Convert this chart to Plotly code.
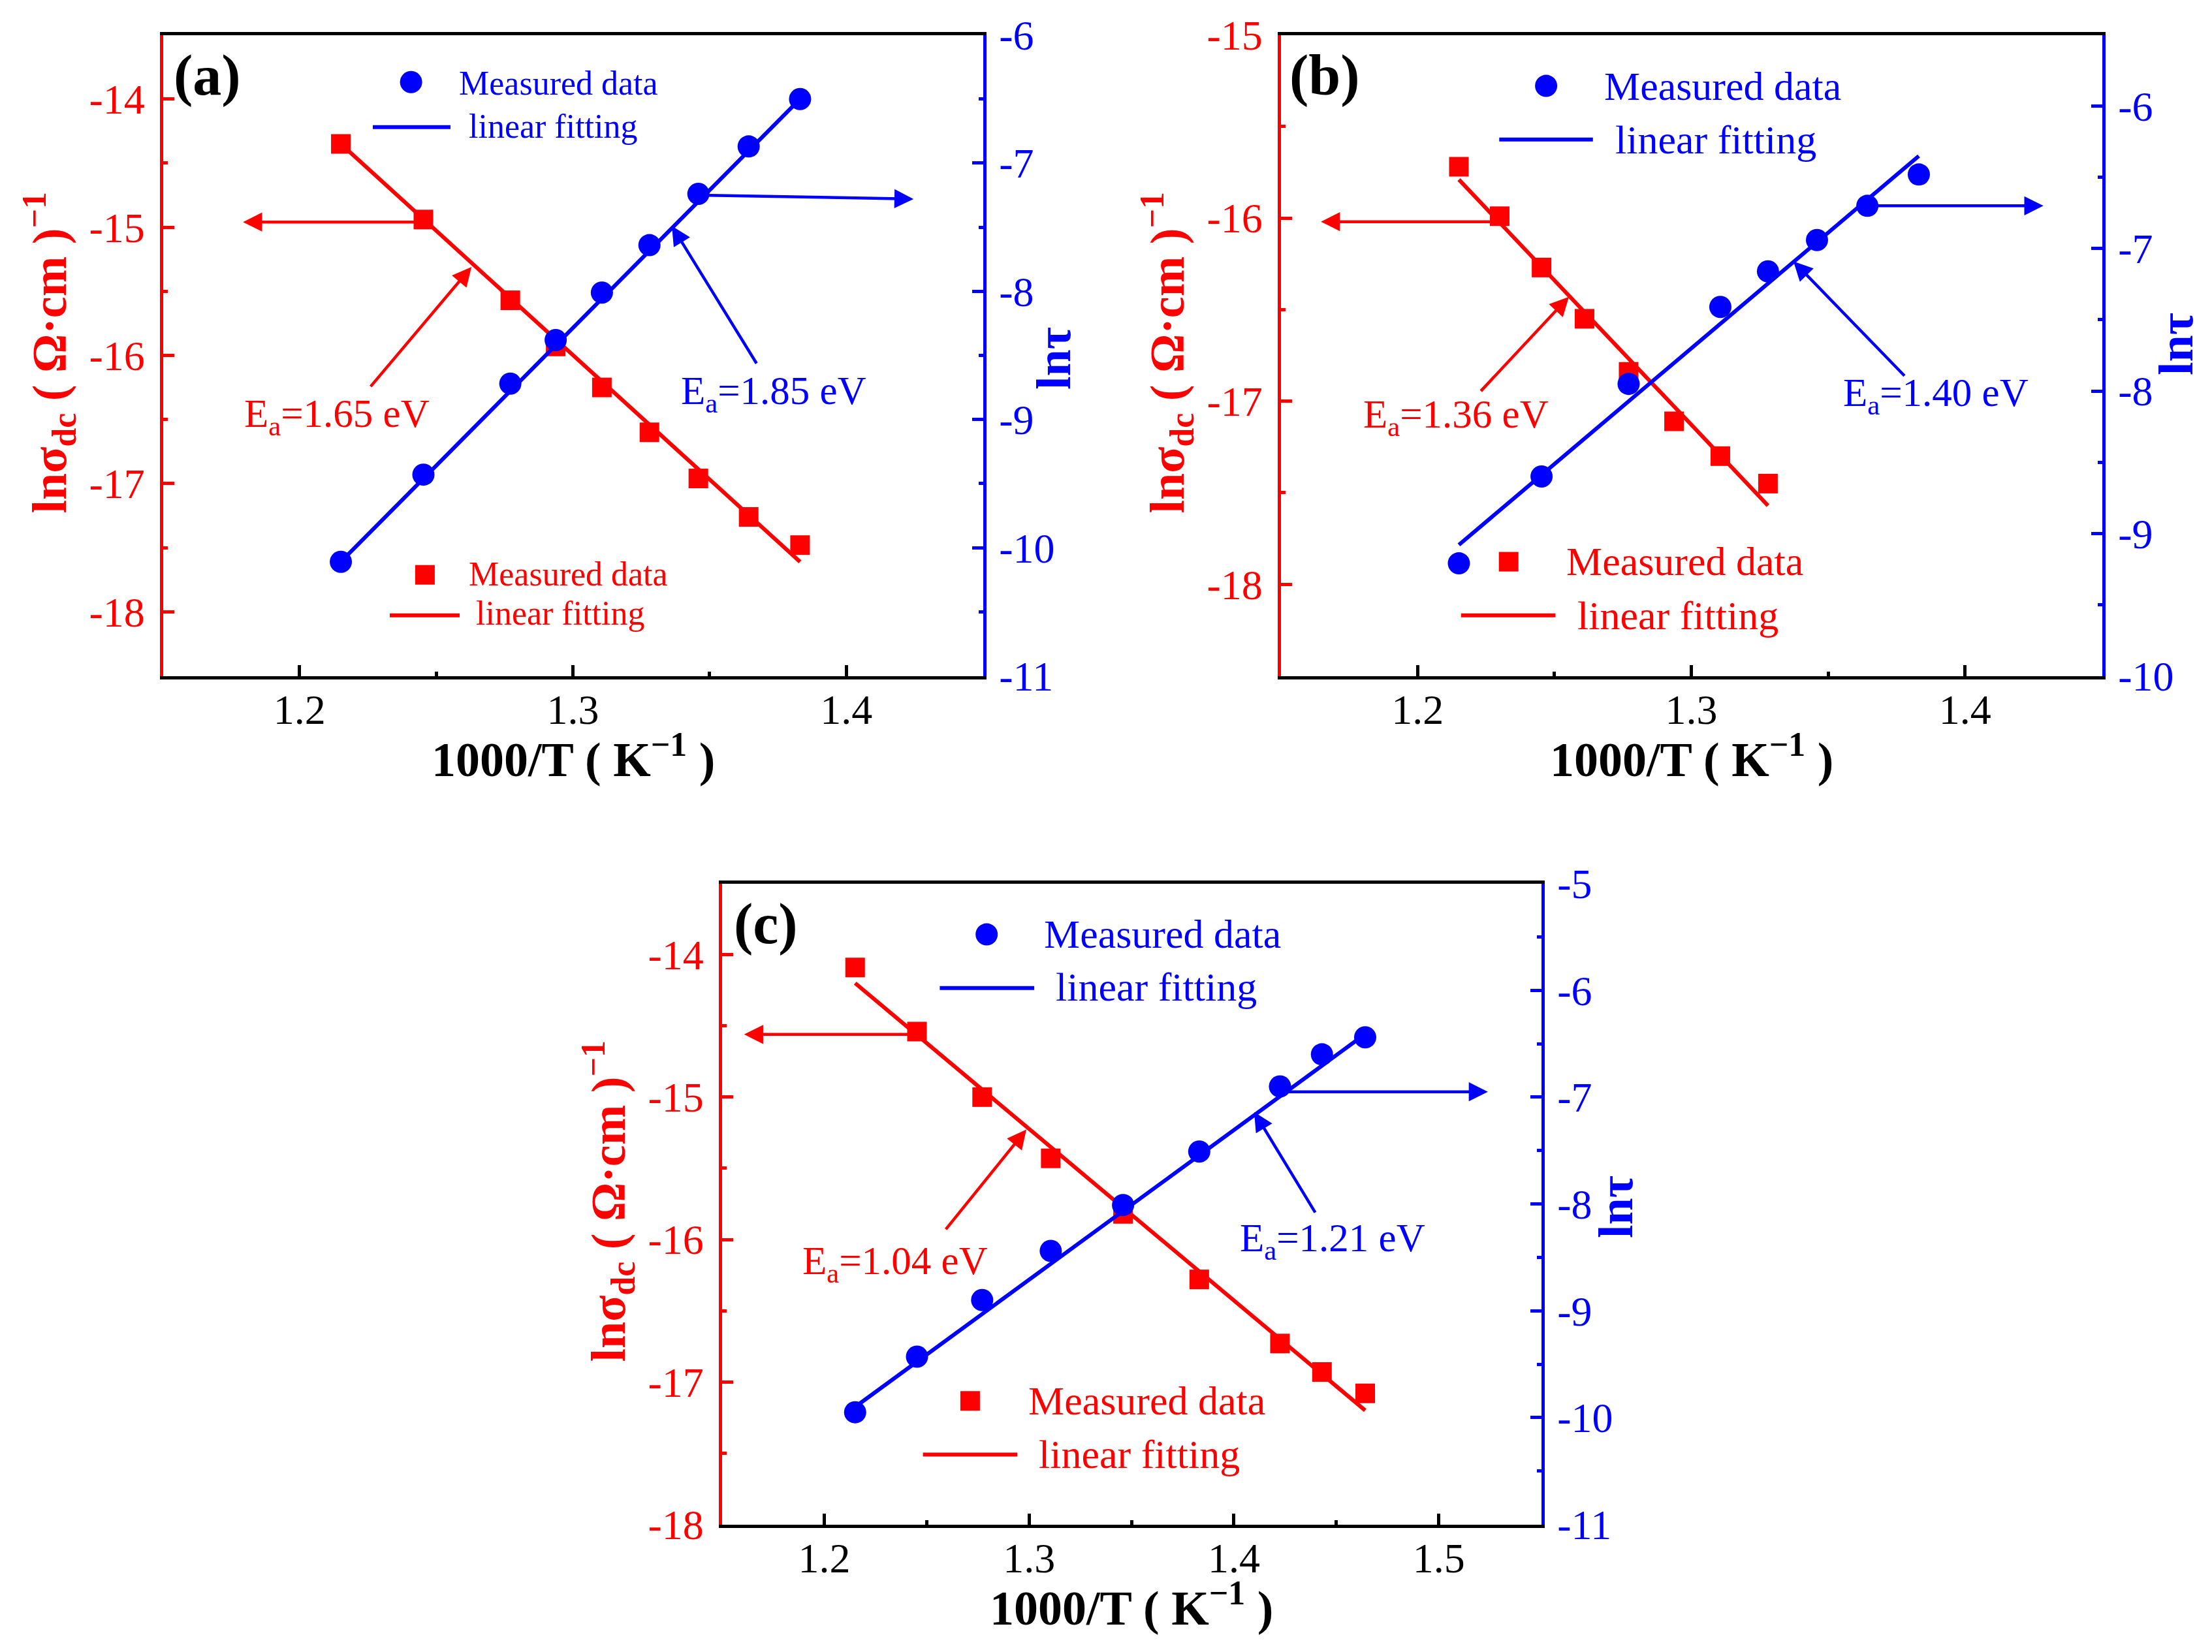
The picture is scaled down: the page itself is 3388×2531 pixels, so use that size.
import plotly.graph_objects as go

W, H = 3388, 2531          # target picture size
OFF = 8                    # page body margin of the html page
FW, FH = W - 2 * OFF, H - 2 * OFF
RED, BLUE, BLACK = "#FF0000", "#0000FF", "#000000"
SERIF = "Liberation Serif, Times New Roman, serif"

# ---------------- data ----------------
# panel (a)
a_x_sigma = [1.2151, 1.2453, 1.2771, 1.2937, 1.3106, 1.3280, 1.3459, 1.3643, 1.3831]
a_ln_sigma = [-14.35, -14.94, -15.57, -15.93, -16.25, -16.60, -16.96, -17.26, -17.48]
a_x_tau = [1.2151, 1.2453, 1.2771, 1.2937, 1.3106, 1.3280, 1.3459, 1.3643, 1.3831]
a_ln_tau = [-10.11, -9.43, -8.72, -8.38, -8.01, -7.64, -7.24, -6.87, -6.50]
a_fit_x_sigma = [1.2151, 1.3831]
a_fit_ln_sigma = [-14.35, -17.61]
a_fit_x_tau = [1.2151, 1.3831]
a_fit_ln_tau = [-10.11, -6.50]
a_Ea = ["1.65", "1.85"]

# panel (b)
b_x_sigma = [1.2151, 1.2300, 1.2453, 1.2610, 1.2771, 1.2937, 1.3106, 1.3280]
b_ln_sigma = [-15.72, -15.99, -16.27, -16.55, -16.84, -17.11, -17.30, -17.45]
b_x_tau = [1.2151, 1.2453, 1.2771, 1.3106, 1.3280, 1.3459, 1.3643, 1.3831]
b_ln_tau = [-9.21, -8.60, -7.95, -7.41, -7.16, -6.94, -6.70, -6.48]
b_fit_x_sigma = [1.2151, 1.3280]
b_fit_ln_sigma = [-15.79, -17.57]
b_fit_x_tau = [1.2151, 1.3831]
b_fit_ln_tau = [-9.08, -6.35]
b_Ea = ["1.36", "1.40"]

# panel (c)
c_x_sigma = [1.2151, 1.2453, 1.2771, 1.3106, 1.3459, 1.3831, 1.4225, 1.4430, 1.4641]
c_ln_sigma = [-14.09, -14.54, -15.00, -15.43, -15.82, -16.28, -16.73, -16.93, -17.08]
c_x_tau = [1.2151, 1.2453, 1.2771, 1.3106, 1.3459, 1.3831, 1.4225, 1.4430, 1.4641]
c_ln_tau = [-9.95, -9.43, -8.90, -8.44, -8.01, -7.51, -6.90, -6.60, -6.44]
c_fit_x_sigma = [1.2151, 1.4641]
c_fit_ln_sigma = [-14.20, -17.20]
c_fit_x_tau = [1.2151, 1.4641]
c_fit_ln_tau = [-9.90, -6.41]
c_Ea = ["1.04", "1.21"]

# tick labels
a_left_ticks = [-14, -15, -16, -17, -18]
a_right_ticks = [-6, -7, -8, -9, -10, -11]
b_left_ticks = [-15, -16, -17, -18]
b_right_ticks = [-6, -7, -8, -9, -10]
c_left_ticks = [-14, -15, -16, -17, -18]
c_right_ticks = [-5, -6, -7, -8, -9, -10, -11]

legend_labels = ["Measured data", "linear fitting"]
x_title = "<b>1000/T ( K<sup>\u22121</sup> )</b>"
yl_title = "<b>ln\u03c3<sub>dc</sub> ( \u03a9\u00b7cm )<sup>\u22121</sup></b>"
yr_title = "<b>ln\u03c4</b>"


def px(X):
    return (X - OFF) / FW


def py(Y):
    return 1 - (Y - OFF) / FH


# panel layout in picture pixels: left, right, top, bottom (axis-line centres)
panels = [
    dict(tag="(a)", xa="x", yl="y", yr="y2", box=(247, 1508, 51, 1038),
         xr=[1.15, 1.45], ylr=[-18.5, -13.5], yrr=[-11, -6],
         lt=a_left_ticks, rt=a_right_ticks,
         xs=a_x_sigma, ys=a_ln_sigma, xt=a_x_tau, yt=a_ln_tau,
         fxs=a_fit_x_sigma, fys=a_fit_ln_sigma, fxt=a_fit_x_tau, fyt=a_fit_ln_tau, Ea=a_Ea),
    dict(tag="(b)", xa="x2", yl="y3", yr="y4", box=(1959, 3222, 51, 1038),
         xr=[1.15, 1.45], ylr=[-18.5, -15], yrr=[-10, -5.5],
         lt=b_left_ticks, rt=b_right_ticks,
         xs=b_x_sigma, ys=b_ln_sigma, xt=b_x_tau, yt=b_ln_tau,
         fxs=b_fit_x_sigma, fys=b_fit_ln_sigma, fxt=b_fit_x_tau, fyt=b_fit_ln_tau, Ea=b_Ea),
    dict(tag="(c)", xa="x3", yl="y5", yr="y6", box=(1103, 2363, 1351, 2338),
         xr=[1.15, 1.55], ylr=[-18, -13.5], yrr=[-11, -5],
         lt=c_left_ticks, rt=c_right_ticks,
         xs=c_x_sigma, ys=c_ln_sigma, xt=c_x_tau, yt=c_ln_tau,
         fxs=c_fit_x_sigma, fys=c_fit_ln_sigma, fxt=c_fit_x_tau, fyt=c_fit_ln_tau, Ea=c_Ea),
]

fig = go.Figure()
layout = dict(width=FW, height=FH, margin=dict(l=0, r=0, t=0, b=0, pad=0, autoexpand=False),
              autosize=False, paper_bgcolor="white", plot_bgcolor="white", showlegend=False)
annotations = []
shapes = []


def axname(ref):
    return ref[0] + "axis" + ref[1:]


for p in panels:
    L, R, T, B = p["box"]
    hw = 2.5
    xdom = [px(L + hw), px(R - hw)]
    ydom = [py(B - hw), py(T + hw)]
    layout[axname(p["xa"])] = dict(
        domain=xdom, anchor=p["yl"], range=p["xr"], showline=True, linecolor=BLACK,
        linewidth=5, mirror=True, ticks="inside", ticklen=17, tickwidth=5, tickcolor=BLACK,
        dtick=0.1, tick0=0, tickfont=dict(family=SERIF, size=64, color=BLACK),
        minor=dict(ticks="inside", ticklen=7, tickwidth=5, tickcolor=BLACK, dtick=0.05, tick0=0),
        showgrid=False, zeroline=False, automargin=False, ticklabelstandoff=-8)
    layout[axname(p["yl"])] = dict(
        domain=ydom, anchor=p["xa"], range=p["ylr"], showline=True, linecolor=RED,
        linewidth=5, ticks="inside", ticklen=17, tickwidth=5, tickcolor=RED,
        tickmode="array", tickvals=p["lt"], ticktext=[str(v) for v in p["lt"]],
        tickfont=dict(family=SERIF, size=64, color=RED),
        minor=dict(ticks="inside", ticklen=7, tickwidth=5, tickcolor=RED, dtick=0.5, tick0=0),
        showgrid=False, zeroline=False, automargin=False, ticklabelstandoff=10)
    layout[axname(p["yr"])] = dict(
        overlaying=p["yl"], side="right", anchor=p["xa"], range=p["yrr"], showline=True,
        linecolor=BLUE, linewidth=5, ticks="inside", ticklen=17, tickwidth=5, tickcolor=BLUE,
        tickmode="array", tickvals=p["rt"], ticktext=[str(v) for v in p["rt"]],
        tickfont=dict(family=SERIF, size=64, color=BLUE),
        minor=dict(ticks="inside", ticklen=7, tickwidth=5, tickcolor=BLUE, dtick=0.5, tick0=0),
        showgrid=False, zeroline=False, automargin=False, ticklabelstandoff=7)

    # traces: red (left axis) first, blue (right axis) on top
    fig.add_trace(go.Scatter(x=p["fxs"], y=p["fys"], mode="lines", xaxis=p["xa"], yaxis=p["yl"],
                             line=dict(color=RED, width=6), name="linear fitting"))
    fig.add_trace(go.Scatter(x=p["xs"], y=p["ys"], mode="markers", xaxis=p["xa"], yaxis=p["yl"],
                             marker=dict(symbol="square", size=30, color=RED, line=dict(width=0)),
                             name="Measured data"))
    fig.add_trace(go.Scatter(x=p["fxt"], y=p["fyt"], mode="lines", xaxis=p["xa"], yaxis=p["yr"],
                             line=dict(color=BLUE, width=6), name="linear fitting"))
    fig.add_trace(go.Scatter(x=p["xt"], y=p["yt"], mode="markers", xaxis=p["xa"], yaxis=p["yr"],
                             marker=dict(symbol="circle", size=34, color=BLUE, line=dict(width=0)),
                             name="Measured data"))

    # panel tag
    annotations.append(dict(text="<b>" + p["tag"] + "</b>", xref="paper", yref="paper",
                            x=px(L + 70), y=py(T + 64), xanchor="center", yanchor="middle",
                            showarrow=False, font=dict(family=SERIF, size=88, color=BLACK)))
    # axis titles
    cx = (L + R) / 2
    cy = (T + B) / 2
    annotations.append(dict(text=x_title, xref="paper", yref="paper", x=px(cx), y=py(B + 120),
                            xanchor="center", yanchor="middle", showarrow=False,
                            font=dict(family=SERIF, size=74, color=BLACK)))
    annotations.append(dict(text=yl_title, xref="paper", yref="paper", x=px(L - 172), y=py(cy - 4),
                            xanchor="center", yanchor="middle", textangle=-90, showarrow=False,
                            font=dict(family=SERIF, size=74, color=RED)))

# right-axis titles (centre positions in picture px)
for (X, Y) in [(1614, 549), (3333, 527), (2475, 1849)]:
    annotations.append(dict(text=yr_title, xref="paper", yref="paper", x=px(X), y=py(Y),
                            xanchor="center", yanchor="middle", textangle=-90, showarrow=False,
                            font=dict(family=SERIF, size=74, color=BLUE)))

# activation-energy labels (data coordinates)
ea_pos = [
    ("x", "y", 1.2136, -16.476, RED, a_Ea[0]), ("x", "y2", 1.3734, -8.798, BLUE, a_Ea[1]),
    ("x2", "y3", 1.2140, -17.087, RED, b_Ea[0]), ("x2", "y4", 1.3893, -8.030, BLUE, b_Ea[1]),
    ("x3", "y5", 1.2346, -16.167, RED, c_Ea[0]), ("x3", "y6", 1.4483, -8.347, BLUE, c_Ea[1]),
]
for xa, ya, x, y, col, val in ea_pos:
    annotations.append(dict(text="E<sub>a</sub>=" + val + " eV", xref=xa, yref=ya, x=x, y=y,
                            xanchor="center", yanchor="middle", showarrow=False,
                            font=dict(family=SERIF, size=61, color=col)))

# arrows: (axis x, axis y, tail x, tail y, tip x, tip y, colour)
arrows = [
    ("x", "y", 1.2453, -14.96, 1.1793, -14.96, RED),
    ("x", "y2", 1.3459, -7.25, 1.4246, -7.28, BLUE),
    ("x", "y", 1.2257, -16.25, 1.2629, -15.31, RED),
    ("x", "y2", 1.3674, -8.57, 1.3362, -7.49, BLUE),
    ("x2", "y3", 1.2300, -16.02, 1.1647, -16.02, RED),
    ("x2", "y4", 1.3643, -6.70, 1.4286, -6.70, BLUE),
    ("x2", "y3", 1.2228, -16.95, 1.2553, -16.43, RED),
    ("x2", "y4", 1.3782, -7.90, 1.3373, -7.09, BLUE),
    ("x3", "y5", 1.2453, -14.56, 1.1609, -14.56, RED),
    ("x3", "y6", 1.4225, -6.95, 1.5240, -6.95, BLUE),
    ("x3", "y5", 1.2590, -15.935, 1.2987, -15.228, RED),
    ("x3", "y6", 1.4400, -8.089, 1.4099, -7.140, BLUE),
]
for xa, ya, tx, ty, hx, hy, col in arrows:
    annotations.append(dict(text="", xref=xa, yref=ya, axref=xa, ayref=ya, x=hx, y=hy, ax=tx, ay=ty,
                            showarrow=True, arrowhead=2, arrowsize=1.3, arrowwidth=4.5,
                            arrowcolor=col, standoff=0))

# hand-built legends (picture pixel positions)
legends = [
    dict(circ=(629.6, 125.8), bline=(571, 690, 194.7), bt=((701.4, 127.3), (715.7, 193.3)),
         sq=(650.9, 880.7), rline=(597, 704, 942.7), rt=((715.7, 879.3), (727, 939.5)), fs=52),
    dict(circ=(2368.1, 131.6), bline=(2296.3, 2439.8, 213.7), bt=((2454.8, 131.9), (2472, 214)),
         sq=(2310.7, 860.6), rline=(2237.8, 2382.4, 942.7), rt=((2396.8, 859.8), (2414, 943.1)), fs=62),
    dict(circ=(1511.2, 1431.6), bline=(1439.4, 1584.1, 1513.7), bt=((1597.3, 1430.8), (1614.5, 1512.3)),
         sq=(1485.9, 2146.3), rline=(1413.6, 1558.3, 2228.4), rt=((1572.6, 2145.5), (1588.7, 2227.6)), fs=62),
]
for lg in legends:
    cxp, cyp = lg["circ"]
    shapes.append(dict(type="circle", xref="paper", yref="paper", xsizemode="pixel", ysizemode="pixel",
                       xanchor=px(cxp), yanchor=py(cyp), x0=-17, x1=17, y0=-17, y1=17,
                       fillcolor=BLUE, line=dict(width=0)))
    sxp, syp = lg["sq"]
    shapes.append(dict(type="rect", xref="paper", yref="paper", xsizemode="pixel", ysizemode="pixel",
                       xanchor=px(sxp), yanchor=py(syp), x0=-15, x1=15, y0=-15, y1=15,
                       fillcolor=RED, line=dict(width=0)))
    for (x0, x1, yy), col in [(lg["bline"], BLUE), (lg["rline"], RED)]:
        shapes.append(dict(type="line", xref="paper", yref="paper", x0=px(x0), x1=px(x1),
                           y0=py(yy), y1=py(yy), line=dict(color=col, width=6)))
    for pos_list, col in [(lg["bt"], BLUE), (lg["rt"], RED)]:
        for (tx, ty), lab in zip(pos_list, legend_labels):
            annotations.append(dict(text=lab, xref="paper", yref="paper", x=px(tx), y=py(ty),
                                    xanchor="left", yanchor="middle", showarrow=False,
                                    font=dict(family=SERIF, size=lg["fs"], color=col)))

layout["annotations"] = annotations
layout["shapes"] = shapes
fig.update_layout(**layout)
fig.write_html("out.html")
